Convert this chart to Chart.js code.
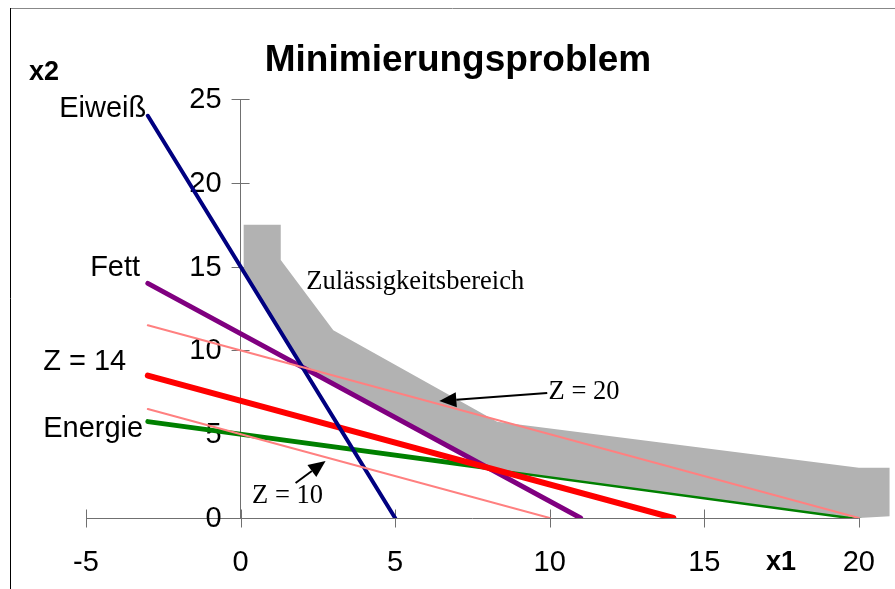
<!DOCTYPE html>
<html>
<head>
<meta charset="utf-8">
<script src="https://cdn.jsdelivr.net/npm/chart.js@4.4.1/dist/chart.umd.min.js"></script>
<style>
  html, body { margin: 0; padding: 0; background: #fff; }
  #wrap { position: relative; width: 895px; height: 589px; }
</style>
</head>
<body>
<div id="wrap"><canvas id="lp"></canvas></div>
<script>
// constraint lines, end points (x1 / x2)
const eiweissX = [-3, 5];
const eiweissY = [24, 0];
const fettX = [-3, 11];
const fettY = [14, 0];
const z14X = [-3, 14];
const z14Y = [8.5, 0];
const energieX = [-3, 20];
const energieY = [5.75, 0];
// iso-cost lines
const z20X = [-3, 20];
const z20Y = [11.5, 0];
const z10X = [-3, 10];
const z10Y = [6.5, 0];

// grey band along the feasible region
const regionX = [0.1, 1.3, 1.3, 3, 8.3, 20, 21, 21, 20, 8, 2, 0.1, 0.1];
const regionY = [17.5, 17.5, 15.4, 11.2, 5.75, 3, 3, 0.1, 0, 3, 9, 14.7, 17.5];

const xTicks = [-5, 0, 5, 10, 15, 20];
const yTicks = [0, 5, 10, 15, 20, 25];

// text annotations (data units)
const lineLabels = ['Eiweiß', 'Fett', 'Z = 14', 'Energie'];
const lineLabelX = [-3.05, -3.25, -3.7, -3.15];
const lineLabelY = [24.4, 14.9, 9.3, 5.3];
const noteTexts = ['Zulässigkeitsbereich', 'Z = 20', 'Z = 10'];
const noteX = [5.65, 11.11, 1.52];
const noteY = [14.1, 7.5, 1.3];
const arrowFromX = [9.92, 1.78];
const arrowFromY = [7.46, 2.09];
const arrowToX = [6.43, 2.75];
const arrowToY = [6.98, 3.40];

const SANS = "'Liberation Sans', Arial, sans-serif";
const SERIF = "'Liberation Serif', 'Times New Roman', serif";
const AXIS = '#707070';

const pts = (xs, ys) => xs.map((x, i) => ({ x: x, y: ys[i] }));

function lineSet(xs, ys, color, width, order) {
    return {
        data: pts(xs, ys), showLine: true, borderColor: color, borderWidth: width,
        pointRadius: 0, borderCapStyle: 'round', fill: false, order: order
    };
}

const overlay = {
    id: 'overlay',
    beforeDraw(chart) {
        const c = chart.ctx;
        c.save();
        c.lineWidth = 1;
        c.strokeStyle = '#888';
        c.beginPath(); c.moveTo(10, 8.5); c.lineTo(895, 8.5); c.stroke();
        c.strokeStyle = '#000';
        c.beginPath(); c.moveTo(10.5, 8); c.lineTo(10.5, 589); c.stroke();
        c.restore();
    },
    beforeDatasetsDraw(chart) {
        const c = chart.ctx, xs = chart.scales.x, ys = chart.scales.y;
        const ox = xs.getPixelForValue(0), oy = Math.round(ys.getPixelForValue(0)) + 0.5;
        c.save();
        c.strokeStyle = AXIS;
        c.lineWidth = 1;
        c.beginPath();
        // x axis runs from the first to the last tick only
        c.moveTo(xs.getPixelForValue(xTicks[0]), oy);
        c.lineTo(xs.getPixelForValue(xTicks[xTicks.length - 1]), oy);
        xTicks.forEach(v => {
            const p = Math.round(xs.getPixelForValue(v)) + 0.5;
            c.moveTo(p, oy - 9); c.lineTo(p, oy + 9);
        });
        yTicks.forEach(v => {
            const p = Math.round(ys.getPixelForValue(v)) + 0.5;
            c.moveTo(ox - 9, p); c.lineTo(ox + 9, p);
        });
        c.stroke();
        // y tick labels, left of the crossing ticks
        c.fillStyle = '#000';
        c.font = '29px ' + SANS;
        c.textAlign = 'right';
        c.textBaseline = 'middle';
        yTicks.forEach(v => c.fillText(String(v), ox - 19, ys.getPixelForValue(v) + 1));
        c.restore();
    },
    afterDatasetsDraw(chart) {
        const c = chart.ctx, xs = chart.scales.x, ys = chart.scales.y;
        c.save();
        c.fillStyle = '#000';
        c.textBaseline = 'middle';

        c.font = '29px ' + SANS;
        c.textAlign = 'right';
        lineLabels.forEach((t, i) => {
            c.fillText(t, xs.getPixelForValue(lineLabelX[i]), ys.getPixelForValue(lineLabelY[i]));
        });

        c.font = '26.5px ' + SERIF;
        c.textAlign = 'center';
        noteTexts.forEach((t, i) => {
            c.fillText(t, xs.getPixelForValue(noteX[i]), ys.getPixelForValue(noteY[i]));
        });

        // arrows
        c.strokeStyle = '#000';
        c.lineWidth = 2;
        arrowFromX.forEach((_, i) => {
            const x0 = xs.getPixelForValue(arrowFromX[i]), y0 = ys.getPixelForValue(arrowFromY[i]);
            const x1 = xs.getPixelForValue(arrowToX[i]), y1 = ys.getPixelForValue(arrowToY[i]);
            const a = Math.atan2(y1 - y0, x1 - x0);
            const len = 17, half = 7.5;
            const bx = x1 - len * Math.cos(a), by = y1 - len * Math.sin(a);
            c.beginPath(); c.moveTo(x0, y0); c.lineTo(bx, by); c.stroke();
            c.beginPath();
            c.moveTo(x1, y1);
            c.lineTo(bx + half * Math.sin(a), by - half * Math.cos(a));
            c.lineTo(bx - half * Math.sin(a), by + half * Math.cos(a));
            c.closePath();
            c.fill();
        });

        // title and axis names
        c.textAlign = 'center';
        c.font = 'bold 37px ' + SANS;
        c.fillText('Minimierungsproblem', 458, 61);
        c.font = 'bold 27px ' + SANS;
        c.fillText('x2', 44, 73);
        c.fillText('x1', 781, 563);
        c.restore();
    }
};

new Chart(document.getElementById('lp'), {
    type: 'scatter',
    data: {
        datasets: [
            lineSet(z20X, z20Y, '#ff8080', 2, 1),
            lineSet(z10X, z10Y, '#ff8080', 2, 1),
            lineSet(eiweissX, eiweissY, '#000080', 4, 2),
            lineSet(z14X, z14Y, '#ff0000', 6, 3),
            lineSet(fettX, fettY, '#800080', 5, 4),
            {
                data: pts(regionX, regionY), showLine: true, borderWidth: 0,
                borderColor: 'rgba(0,0,0,0)', backgroundColor: '#b2b2b2',
                pointRadius: 0, fill: 'shape', clip: false, order: 5
            },
            lineSet(energieX, energieY, '#008000', 5, 6)
        ]
    },
    options: {
        responsive: true,
        maintainAspectRatio: false,
        animation: false,
        layout: { autoPadding: false, padding: { left: 86, right: 1, top: 99, bottom: 71 } },
        plugins: { legend: { display: false }, tooltip: { enabled: false }, title: { display: false } },
        scales: {
            x: {
                type: 'linear', position: { y: 0 }, min: -5, max: 21,
                afterFit: s => { s.height = 0; },
                afterBuildTicks: s => { s.ticks = xTicks.map(v => ({ value: v })); },
                grid: { display: false },
                border: { display: false },
                ticks: { color: '#000', font: { family: SANS, size: 29 }, padding: 20, maxRotation: 0 }
            },
            y: {
                type: 'linear', position: { x: 0 }, min: 0, max: 25,
                afterFit: s => { s.width = 0; },
                afterBuildTicks: s => { s.ticks = yTicks.map(v => ({ value: v })); },
                grid: { display: false },
                border: { display: true, color: AXIS, width: 1 },
                ticks: { display: false }
            }
        }
    },
    plugins: [overlay]
});
</script>
</body>
</html>
